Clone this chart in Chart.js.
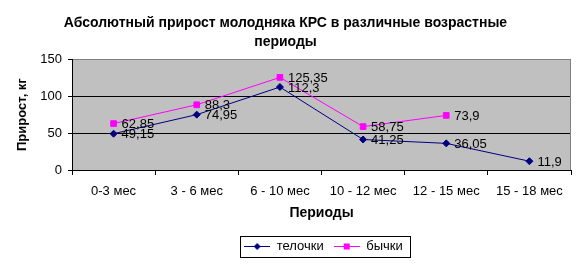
<!DOCTYPE html>
<html>
<head>
<meta charset="utf-8">
<script src="https://cdn.jsdelivr.net/npm/chart.js@4"></script>
<style>
  html, body { margin: 0; padding: 0; background: #fff; }
  canvas { display: block; }
</style>
</head>
<body>
<canvas id="chart" width="587" height="264"></canvas>
<script>
// ─── DATA ─────────────────────────────────────────────
const titleLines = ['Абсолютный прирост молодняка КРС в различные возрастные', 'периоды'];
const periods    = ['0-3 мес', '3 - 6 мес', '6 - 10 мес', '10 - 12 мес', '12 - 15 мес', '15 - 18 мес'];
const heifers    = [49.15, 74.95, 112.3, 41.25, 36.05, 11.9];     // телочки
const bulls      = [62.85, 88.3, 125.35, 58.75, 73.9, null];      // бычки
const yTicks     = [0, 50, 100, 150];

const FONT = '"Liberation Sans", Arial, sans-serif';

// legend swatch: short line with the marker in the middle (Excel style)
function swatch(color, shape) {
    const c = document.createElement('canvas');
    c.width = 26; c.height = 9;
    const g = c.getContext('2d');
    g.strokeStyle = color; g.fillStyle = color; g.lineWidth = 1;
    g.beginPath(); g.moveTo(0, 4.5); g.lineTo(26, 4.5); g.stroke();
    if (shape === 'diamond') {
        g.beginPath(); g.moveTo(13, 1); g.lineTo(16.5, 4.5); g.lineTo(13, 8); g.lineTo(9.5, 4.5); g.closePath(); g.fill();
    } else {
        g.fillRect(10, 1.5, 6, 6);
    }
    return c;
}

// gray plot area + right border
const plotArea = {
    id: 'plotArea',
    beforeDraw(chart) {
        const { ctx, chartArea: a } = chart;
        ctx.save();
        ctx.fillStyle = '#c0c0c0';
        ctx.fillRect(a.left, a.top, a.right - a.left, a.bottom - a.top);
        ctx.restore();
    },
    beforeDatasetsDraw(chart) {
        const { ctx, chartArea: a } = chart;
        ctx.save();
        ctx.strokeStyle = '#808080';
        ctx.lineWidth = 1;
        ctx.beginPath();
        ctx.moveTo(Math.round(a.right) - 0.5, a.top);
        ctx.lineTo(Math.round(a.right) - 0.5, a.bottom);
        ctx.stroke();
        ctx.restore();
    }
};

// value labels to the right of each point
const valueLabels = {
    id: 'valueLabels',
    afterDatasetsDraw(chart) {
        const ctx = chart.ctx;
        ctx.save();
        ctx.font = '13px ' + FONT;
        ctx.fillStyle = '#000';
        ctx.textAlign = 'left';
        ctx.textBaseline = 'middle';
        chart.data.datasets.forEach((ds, i) => {
            chart.getDatasetMeta(i).data.forEach((pt, j) => {
                const v = ds.data[j];
                if (v == null) return;
                ctx.fillText(String(v).replace('.', ','), pt.x + 8, pt.y + 1);
            });
        });
        ctx.restore();
    }
};

// legend centred under the plot area, with a black frame
const legendFrame = {
    id: 'legendFrame',
    afterLayout(chart) {
        const lg = chart.legend, a = chart.chartArea;
        const dx = (a.left + a.right) / 2 - (lg.left + lg.right) / 2 + 2;
        lg.left += dx;
        lg.right += dx;
    },
    afterDraw(chart) {
        const boxes = chart.legend.legendHitBoxes;
        if (!boxes || !boxes.length) return;
        const l = Math.min(...boxes.map(b => b.left)) - 4;
        const r = Math.max(...boxes.map(b => b.left + b.width)) + 7;
        const t = Math.min(...boxes.map(b => b.top)) - 4;
        const btm = Math.max(...boxes.map(b => b.top + b.height)) + 4;
        const ctx = chart.ctx;
        ctx.save();
        ctx.strokeStyle = '#000';
        ctx.lineWidth = 1;
        ctx.strokeRect(Math.round(l) + 0.5, Math.round(t) + 0.5, Math.round(r - l), Math.round(btm - t));
        ctx.restore();
    }
};

new Chart(document.getElementById('chart'), {
    type: 'line',
    data: {
        labels: periods,
        datasets: [
            {
                label: 'телочки',
                data: heifers,
                borderColor: '#000080',
                backgroundColor: '#000080',
                borderWidth: 1,
                pointStyle: 'rectRot',
                pointRadius: 3.5,
                pointBorderWidth: 1,
                tension: 0
            },
            {
                label: 'бычки',
                data: bulls,
                borderColor: '#ff00ff',
                backgroundColor: '#ff00ff',
                borderWidth: 1,
                pointStyle: 'rect',
                pointRadius: 4,
                pointBorderWidth: 1,
                tension: 0
            }
        ]
    },
    options: {
        responsive: false,
        animation: false,
        layout: { padding: { left: 0, right: 16, top: 0, bottom: 1 } },
        scales: {
            x: {
                offset: true,
                grid: {
                    offset: true,
                    drawOnChartArea: false,
                    drawTicks: true,
                    tickLength: 5,
                    tickColor: '#000'
                },
                border: { color: '#000', width: 1 },
                ticks: {
                    color: '#000',
                    font: { family: FONT, size: 13 },
                    padding: 9,
                    maxRotation: 0,
                    autoSkip: false
                },
                title: {
                    display: true,
                    text: 'Периоды',
                    color: '#000',
                    font: { family: FONT, size: 14, weight: 'bold' },
                    padding: { top: 0, bottom: 8 }
                },
                afterFit: (s) => { s.height = 60; }
            },
            y: {
                min: 0,
                max: 150,
                afterBuildTicks: (s) => { s.ticks = yTicks.map(v => ({ value: v })); },
                grid: {
                    color: (c) => (c.tick && c.tick.value === 150 ? '#808080' : '#000'),
                    tickColor: '#000',
                    tickLength: 4,
                    drawTicks: true
                },
                border: { color: '#000', width: 1 },
                ticks: {
                    color: '#000',
                    font: { family: FONT, size: 13 },
                    padding: 6
                },
                title: {
                    display: true,
                    text: 'Прирост, кг',
                    color: '#000',
                    font: { family: FONT, size: 13, weight: 'bold' },
                    padding: { top: 15, bottom: 0 }
                },
                afterFit: (s) => { s.width = 72; }
            }
        },
        plugins: {
            title: {
                display: true,
                text: titleLines,
                color: '#000',
                font: { family: FONT, size: 14, weight: 'bold', lineHeight: 1.4 },
                padding: { top: 13, bottom: 7 }
            },
            legend: {
                position: 'bottom',
                labels: {
                    color: '#000',
                    font: { family: FONT, size: 13 },
                    usePointStyle: true,
                    pointStyleWidth: 26,
                    boxHeight: 9,
                    padding: 10,
                    generateLabels: (chart) => [
                        { text: 'телочки', pointStyle: swatch('#000080', 'diamond'), datasetIndex: 0, fontColor: '#000', lineWidth: 0, strokeStyle: 'transparent', fillStyle: 'transparent' },
                        { text: 'бычки', pointStyle: swatch('#ff00ff', 'square'), datasetIndex: 1, fontColor: '#000', lineWidth: 0, strokeStyle: 'transparent', fillStyle: 'transparent' }
                    ]
                }
            },
            tooltip: { enabled: false }
        }
    },
    plugins: [plotArea, valueLabels, legendFrame]
});
</script>
</body>
</html>
